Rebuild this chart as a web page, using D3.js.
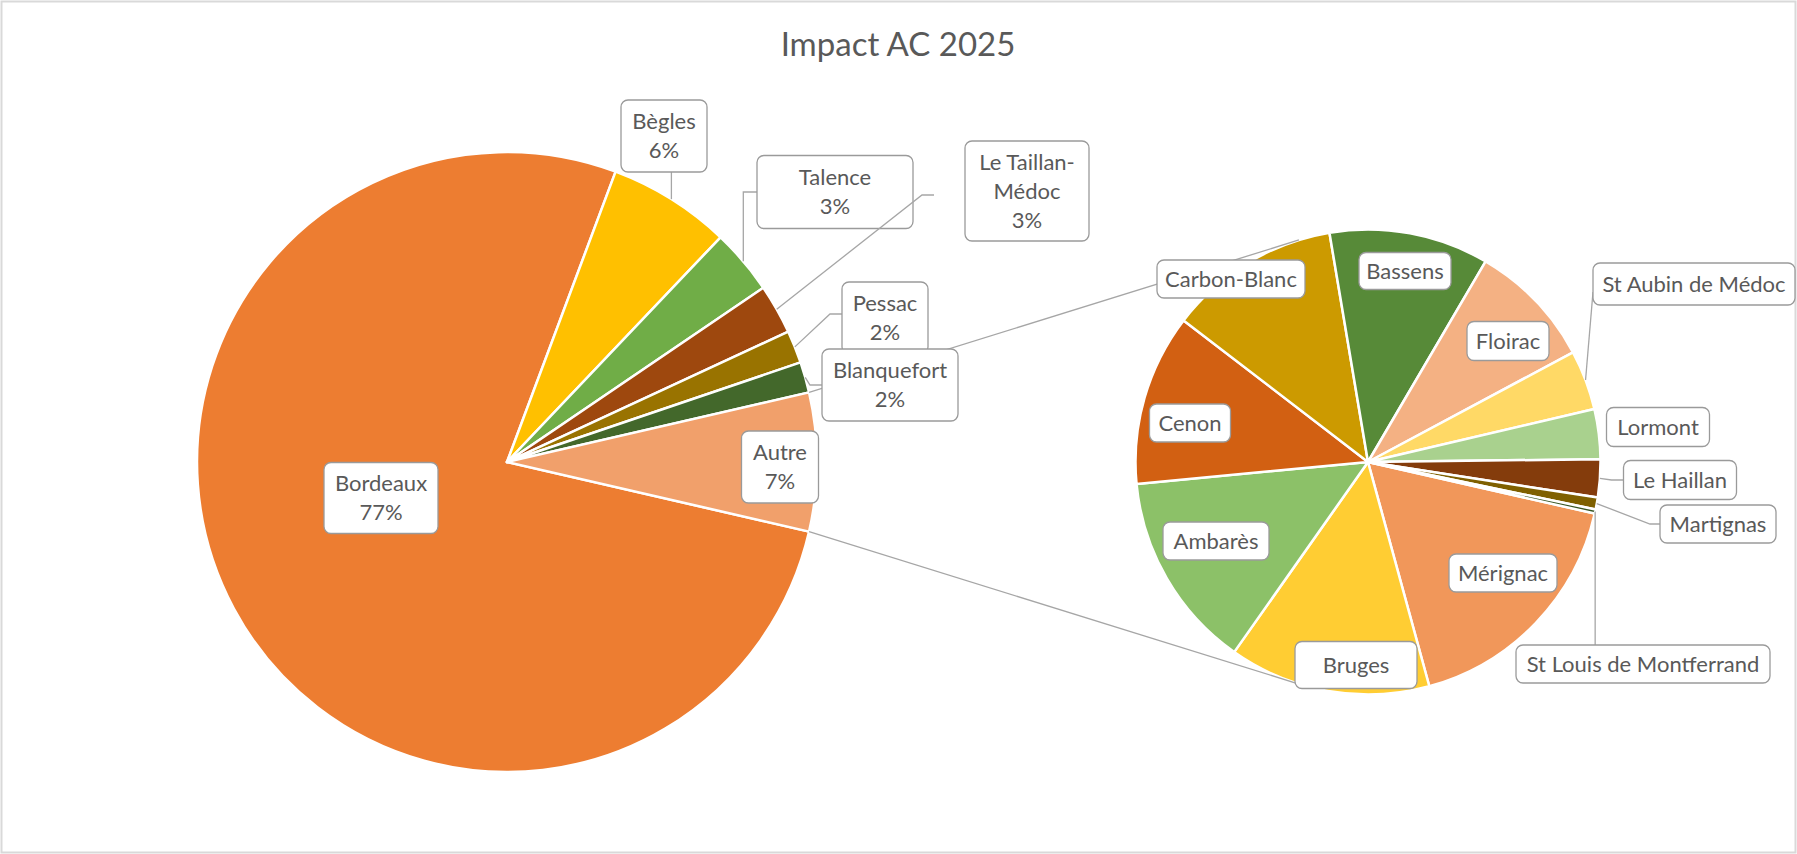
<!DOCTYPE html>
<html>
<head>
<meta charset="utf-8">
<script src="https://cdn.jsdelivr.net/npm/d3@7"></script>
<style>
  body { margin: 0; background: #fff; }
  svg { display: block; font-family: Lato, "Open Sans", sans-serif; }
</style>
</head>
<body>
<svg width="1797" height="854"></svg>
<script>
// main pie (share of total, %)
const mainNames = ["Bordeaux", "Bègles", "Talence", "Le Taillan-Médoc", "Pessac", "Blanquefort"];
const mainValues = [77.1, 6.4, 3.4, 2.6, 1.7, 1.6];
const mainColors = ["#ED7D31", "#FFC000", "#70AD47", "#9E480E", "#997300", "#43682B"];
const otherName = "Autre";
const otherColor = "#F1A06B";

// secondary pie = split of "Autre" (share of total, %)
const subNames = ["Mérignac", "Bruges", "Ambarès", "Cenon", "Carbon-Blanc", "Bassens", "Floirac",
  "St Aubin de Médoc", "Lormont", "Le Haillan", "Martignas", "St Louis de Montferrand"];
const subValues = [1.24, 1.01, 0.99, 0.86, 0.86, 0.80, 0.63, 0.30, 0.25, 0.19, 0.06, 0.02];
const subColors = ["#F1975A", "#FFCD33", "#8CC168", "#D26012", "#CC9A00", "#578A38", "#F4B183",
  "#FFD966", "#A9D18E", "#843C0C", "#7F6000", "#375623"];

const title = "Impact AC 2025";

// layout
const W = 1797, H = 854;
const c1 = [507, 462], r1 = 310;
const c2 = [1368, 462], r2 = 232.5;
const subStart = 102.8 * Math.PI / 180;
const textColor = "#595959";
const lineColor = "#a6a6a6";
const fs = 22, lh = 29;

// label boxes: offset of box centre from its pie centre, box size, leader type
const labelLayout = {
  "Bordeaux": { dx: -126, dy: 36, w: 114, h: 71 },
  "Bègles": { dx: 157, dy: -326, w: 86, h: 72, leader: "up" },
  "Talence": { dx: 328, dy: -270, w: 156, h: 73, leader: "vh" },
  "Le Taillan-Médoc": { dx: 520, dy: -271, w: 124, h: 100, leader: "dh", gap: 31, elbow: 12, wrap: true, ady: 4 },
  "Pessac": { dx: 378, dy: -144, w: 86, h: 72, leader: "dh", gap: 0, elbow: 12, ady: -4 },
  "Blanquefort": { dx: 383, dy: -77, w: 136, h: 72, leader: "dh", gap: 0, elbow: 12 },
  "Autre": { dx: 273, dy: 5, w: 77, h: 72 },
  "Carbon-Blanc": { dx: -137, dy: -183, w: 148, h: 38 },
  "Bassens": { dx: 37, dy: -191, w: 92, h: 37 },
  "Floirac": { dx: 140, dy: -121, w: 82, h: 39 },
  "Cenon": { dx: -178, dy: -39, w: 81, h: 38 },
  "Ambarès": { dx: -152, dy: 79, w: 106, h: 38 },
  "Bruges": { dx: -12, dy: 203, w: 122, h: 47 },
  "Mérignac": { dx: 135, dy: 111, w: 108, h: 38 },
  "St Louis de Montferrand": { dx: 275, dy: 202, w: 254, h: 38, leader: "down" },
  "St Aubin de Médoc": { dx: 326, dy: -178, w: 202, h: 42, leader: "dh", gap: 0, elbow: 0, ady: 8 },
  "Lormont": { dx: 290, dy: -35, w: 103, h: 39 },
  "Le Haillan": { dx: 312, dy: 18, w: 113, h: 39, leader: "dh", gap: 0, elbow: 12 },
  "Martignas": { dx: 350, dy: 62, w: 116, h: 38, leader: "dh", gap: 0, elbow: 10 }
};

const svg = d3.select("svg");

svg.append("rect")
  .attr("x", 1.5).attr("y", 1.5)
  .attr("width", W - 3).attr("height", H - 3)
  .style("fill", "#fff")
  .style("stroke", "#d9d9d9")
  .style("stroke-width", 2);

svg.append("text")
  .attr("x", 898).attr("y", 56)
  .attr("text-anchor", "middle")
  .style("font-size", "33px")
  .style("fill", textColor)
  .text(title);

// data
const otherValue = d3.sum(subValues);
const mainData = mainNames.map((n, i) => ({ name: n, value: mainValues[i], color: mainColors[i] }))
  .concat([{ name: otherName, value: otherValue, color: otherColor }]);
const subData = subNames.map((n, i) => ({ name: n, value: subValues[i], color: subColors[i] }));
const total = d3.sum(mainData, d => d.value);
const pct = d3.format(".0%");

// "Autre" slice is centred on 3 o'clock
const mainStart = Math.PI / 2 + Math.PI * otherValue / total;
const pie1 = d3.pie().sort(null).value(d => d.value)
  .startAngle(mainStart).endAngle(mainStart + 2 * Math.PI);
const pie2 = d3.pie().sort(null).value(d => d.value)
  .startAngle(subStart).endAngle(subStart + 2 * Math.PI);
const arcs1 = pie1(mainData);
const arcs2 = pie2(subData);

const arc1 = d3.arc().innerRadius(0).outerRadius(r1);
const arc2 = d3.arc().innerRadius(0).outerRadius(r2);

function onCircle(c, r, a) {
  return [c[0] + r * Math.sin(a), c[1] - r * Math.cos(a)];
}

svg.append("g")
  .attr("transform", `translate(${c1})`)
  .selectAll("path")
  .data(arcs1)
  .join("path")
  .attr("d", arc1)
  .style("fill", d => d.data.color)
  .style("stroke", "#fff")
  .style("stroke-width", 2.5)
  .style("stroke-linejoin", "round");

svg.append("g")
  .attr("transform", `translate(${c2})`)
  .selectAll("path")
  .data(arcs2)
  .join("path")
  .attr("d", arc2)
  .style("fill", d => d.data.color)
  .style("stroke", "#fff")
  .style("stroke-width", 2.5)
  .style("stroke-linejoin", "round");

// series lines: edges of "Autre" to tangent points of the second pie
const other = arcs1[arcs1.length - 1];
function tangent(p, upper) {
  const dx = p[0] - c2[0], dy = p[1] - c2[1];
  const d = Math.hypot(dx, dy);
  const base = Math.atan2(dx, -dy);
  const delta = Math.acos(r2 / d);
  return onCircle(c2, r2, upper ? base + delta : base - delta);
}
const pTop = onCircle(c1, r1, other.startAngle);
const pBot = onCircle(c1, r1, other.endAngle);
[[pTop, tangent(pTop, true)], [pBot, tangent(pBot, false)]].forEach(seg => {
  svg.append("line")
    .attr("x1", seg[0][0]).attr("y1", seg[0][1])
    .attr("x2", seg[1][0]).attr("y2", seg[1][1])
    .style("stroke", lineColor)
    .style("stroke-width", 1.3);
});

// labels
const labels = [];
arcs1.forEach(a => labels.push({ a, c: c1, r: r1, main: true }));
arcs2.forEach(a => labels.push({ a, c: c2, r: r2, main: false }));

labels.forEach(l => {
  const name = l.a.data.name;
  const lay = labelLayout[name];
  if (!lay) return;
  const cx = l.c[0] + lay.dx, cy = l.c[1] + lay.dy;
  const left = cx - lay.w / 2, top = cy - lay.h / 2;
  const mid = (l.a.startAngle + l.a.endAngle) / 2;
  const p = onCircle(l.c, l.r, mid);

  let pts = null;
  if (lay.leader === "up") pts = [p, [p[0], top + lay.h]];
  if (lay.leader === "down") pts = [p, [p[0], top]];
  if (lay.leader === "vh") pts = [p, [p[0], cy], [left, cy]];
  if (lay.leader === "dh") {
    const y = cy + (lay.ady || 0);
    pts = [p, [left - lay.gap - lay.elbow, y], [left - lay.gap, y]];
  }
  if (pts) {
    svg.append("path")
      .attr("d", d3.line()(pts))
      .style("fill", "none")
      .style("stroke", lineColor)
      .style("stroke-width", 1.3);
  }

  let lines;
  if (l.main) {
    const nameLines = lay.wrap ? name.replace("-", "-\n").split("\n") : [name];
    lines = nameLines.concat([pct(l.a.data.value / total)]);
  } else {
    lines = [name];
  }

  const g = svg.append("g");
  g.append("rect")
    .attr("x", left).attr("y", top)
    .attr("width", lay.w).attr("height", lay.h)
    .attr("rx", 7)
    .style("fill", "#fff")
    .style("stroke", "#9a9a9a")
    .style("stroke-width", 1.3);
  const n = lines.length;
  lines.forEach((t, i) => {
    g.append("text")
      .attr("x", cx)
      .attr("y", cy + (i - (n - 1) / 2) * lh + 0.35 * fs)
      .attr("text-anchor", "middle")
      .style("font-size", fs + "px")
      .style("fill", textColor)
      .text(t);
  });
});
</script>
</body>
</html>
